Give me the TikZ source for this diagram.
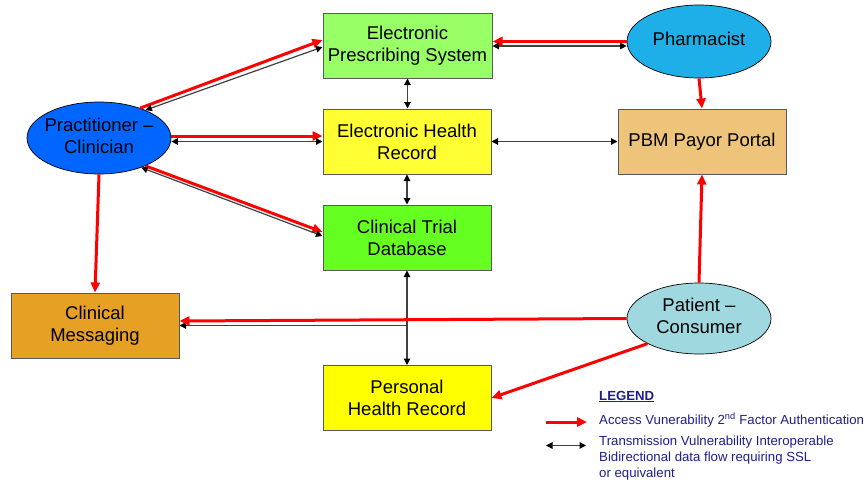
\documentclass[tikz,border=0pt]{standalone}
\usepackage{fontspec}
\setmainfont{Liberation Sans}
\usetikzlibrary{arrows.meta,shapes.geometric}
\definecolor{cEPS}{RGB}{153,255,102}
\definecolor{cEHR}{RGB}{255,255,51}
\definecolor{cCTD}{RGB}{102,255,34}
\definecolor{cPHR}{RGB}{255,255,0}
\definecolor{cCM}{RGB}{230,160,36}
\definecolor{cPBM}{RGB}{237,196,122}
\definecolor{cPrac}{RGB}{0,102,255}
\definecolor{cPharm}{RGB}{30,174,232}
\definecolor{cPat}{RGB}{160,216,224}
\definecolor{cRed}{RGB}{255,0,0}
\definecolor{cLeg}{RGB}{30,30,140}
\newcommand{\ovtext}[1]{\makebox[0pt]{\begin{tabular}{@{}c@{}}#1\end{tabular}}}
\begin{document}
\begin{tikzpicture}[x=1pt,y=-1pt,
  box/.style={draw=black!65, line width=1pt, minimum width=168pt, minimum height=65pt,
    inner sep=0pt, align=center, font=\fontsize{18.5}{22}\selectfont},
  oval/.style={ellipse, draw=black, line width=0.7pt, minimum width=144pt, minimum height=72pt,
    inner sep=0pt, font=\fontsize{18.5}{22}\selectfont},
  redarr/.style={draw=cRed, line width=3pt, -{Triangle[length=10pt,width=9pt]}},
  bidir/.style={draw=black!75, line width=1.2pt,
    {Triangle[length=6.5pt,width=6.5pt,color=black]}-{Triangle[length=6.5pt,width=6.5pt,color=black]}},
  onedir/.style={draw=black!75, line width=1.2pt, -{Triangle[length=6.5pt,width=6.5pt,color=black]}},
  legtext/.style={text=cLeg, inner sep=0pt, align=left, font=\fontsize{13.2}{16}\selectfont},
]
\useasboundingbox (0,0) rectangle (867,485);

% boxes
\node[box, fill=cEPS, minimum width=169pt] (eps) at (407.5,45.5) {Electronic\\Prescribing System};
\node[box, fill=cEHR] (ehr) at (407,141.5) {Electronic Health\\Record};
\node[box, fill=cCTD] (ctd) at (407,237.5) {Clinical Trial\\Database};
\node[box, fill=cPHR] (phr) at (407,398) {Personal\\Health Record};
\node[box, fill=cCM] (cm) at (95,325.5) {Clinical\\Messaging};
\node[box, fill=cPBM] (pbm) at (702,141.5) {PBM Payor Portal};

% ellipses
\node[oval, fill=cPharm, minimum height=73pt] (pharm) at (699,41.5) {\ovtext{Pharmacist}};
\node[oval, fill=cPrac] (prac) at (99,138) {\ovtext{Practitioner –\\Clinician}};
\node[oval, fill=cPat, minimum height=71pt] (pat) at (699,318.5) {\ovtext{Patient –\\Consumer}};

% practitioner connections
\draw[redarr] (prac.36) -- ([yshift=5.5pt]eps.west);
\draw[bidir] (prac.31) -- ([yshift=-1.5pt]eps.west);
\draw[redarr] ([yshift=2pt]prac.east) -- ([yshift=2pt]prac.east -| ehr.west);
\draw[bidir] ([yshift=-3.5pt]prac.east) -- ([yshift=-3.5pt]prac.east -| ehr.west);
\draw[redarr] (prac.-31) -- ([yshift=5.5pt]ctd.west);
\draw[bidir] (prac.-35) -- ([yshift=1.5pt]ctd.west);
\draw[redarr] (prac.south) -- (cm.north);

% pharmacist connections
\draw[redarr] (pharm.west) -- (pharm.west -| eps.east);
\draw[bidir] ([yshift=-4.5pt]pharm.west) -- ([yshift=-4.5pt]pharm.west -| eps.east);
\draw[redarr] (pharm.south) -- (pbm.north);

% vertical data flows
\draw[bidir] (eps.south) -- (eps.south |- ehr.north);
\draw[bidir] (ehr.south) -- (ehr.south |- ctd.north);
\draw[bidir] (ehr.east) -- (pbm.west);
\draw[bidir] (ctd.south) -- (ctd.south |- phr.north);
\coordinate (junc) at (ctd.south |- cm.east);
\draw[onedir] (junc) -- (cm.east);

% patient connections
\draw[redarr] (pat.west) -- ([yshift=4.5pt]cm.east);
\draw[redarr] (pat.north) -- (pbm.south);
\draw[redarr] (pat.206) -- (phr.east);

% legend
\node[legtext, anchor=base west] (legt) at (599,400) {\textbf{\underline{LEGEND}}};
\coordinate (l1a) at (546,422);
\coordinate (l1b) at (587,422);
\draw[redarr] (l1a) -- (l1b);
\node[legtext, anchor=base west] (leg1) at (599,424) {Access Vunerability 2\textsuperscript{nd} Factor Authentication};
\coordinate (l2a) at (546,445.5);
\coordinate (l2b) at (586,445.5);
\draw[bidir] (l2a) -- (l2b);
\node[legtext, anchor=north west] (leg2) at (599,436) {Transmission Vulnerability Interoperable\\Bidirectional data flow requiring SSL\\or equivalent};
\end{tikzpicture}
\end{document}
